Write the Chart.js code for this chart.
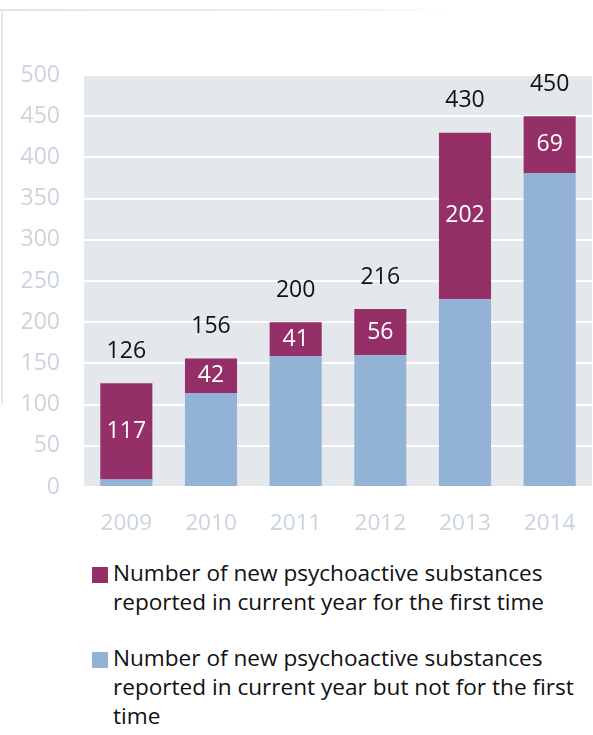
<!DOCTYPE html>
<html>
<head>
<meta charset="utf-8">
<script src="https://cdn.jsdelivr.net/npm/chart.js@4"></script>
<style>
  body { margin: 0; background: #fff; font-family: "Open Sans", sans-serif; }
  #wrap { position: relative; width: 593px; height: 735px; overflow: hidden; }
  #frameTop { position: absolute; left: 0; top: 9px; width: 450px; height: 2px;
    background: linear-gradient(to right, #dfe5ec, #eef1f5 80%, rgba(255,255,255,0)); }
  #frameLeft { position: absolute; left: 1px; top: 10px; width: 2px; height: 395px; background: #e3e9f1; }
  #box { position: absolute; left: 0; top: 0; width: 593px; height: 545px; }
  #legend { position: absolute; left: 92px; top: 558px; width: 500px; }
  .item { display: flex; align-items: flex-start; margin-bottom: 27px; }
  .swatch { width: 16px; height: 16px; margin-top: 9px; margin-right: 5px; flex: none; }
  .txt { font-size: 22.6px; line-height: 29px; color: #111; }
</style>
</head>
<body>
<div id="wrap">
  <div id="frameTop"></div>
  <div id="frameLeft"></div>
  <div id="box"><canvas id="myChart"></canvas></div>
  <div id="legend"></div>
</div>
<script>
const years = ["2009", "2010", "2011", "2012", "2013", "2014"];
const firstTime = [117, 42, 41, 56, 202, 69];
const notFirstTime = [9, 114, 159, 160, 228, 381];
const totals = [126, 156, 200, 216, 430, 450];
const yTicks = [0, 50, 100, 150, 200, 250, 300, 350, 400, 450, 500];

const labelFirst = "Number of new psychoactive substances reported in current year for the first time";
const labelNotFirst = "Number of new psychoactive substances reported in current year but not for the first time";
const purple = "#943067";
const blue = "#92b3d6";
const tickGrey = "#cbd3dd";

// grey plot background
const plotBg = {
    id: "plotBg",
    beforeDraw(chart) {
        const a = chart.chartArea;
        const ctx = chart.ctx;
        ctx.save();
        ctx.fillStyle = "#e4e7eb";
        ctx.fillRect(a.left, a.top, a.right - a.left, a.bottom - a.top);
        ctx.restore();
    }
};

// values inside purple segments and totals over the bars
const barLabels = {
    id: "barLabels",
    afterDatasetsDraw(chart) {
        const ctx = chart.ctx;
        const y = chart.scales.y;
        const top = chart.getDatasetMeta(1).data;
        ctx.save();
        ctx.font = "23px 'Open Sans'";
        ctx.textAlign = "center";
        ctx.textBaseline = "middle";
        top.forEach((bar, i) => {
            const mid = y.getPixelForValue(notFirstTime[i] + firstTime[i] / 2);
            ctx.fillStyle = "#fff";
            ctx.fillText(firstTime[i], bar.x, mid);
            ctx.fillStyle = "#111";
            ctx.fillText(totals[i], bar.x, y.getPixelForValue(totals[i]) - 32);
        });
        ctx.restore();
    }
};

const chart = new Chart("myChart", {
    type: "bar",
    data: {
        labels: years,
        datasets: [{
            label: labelNotFirst,
            data: notFirstTime,
            backgroundColor: blue
        }, {
            label: labelFirst,
            data: firstTime,
            backgroundColor: purple
        }]
    },
    options: {
        responsive: true,
        maintainAspectRatio: false,
        animation: false,
        layout: { padding: { top: 75, right: 1, left: 0, bottom: 0 } },
        datasets: { bar: { categoryPercentage: 1, barPercentage: 0.615 } },
        plugins: { legend: { display: false }, tooltip: { enabled: false } },
        scales: {
            x: {
                stacked: true,
                grid: { display: false },
                border: { display: false },
                ticks: { color: tickGrey, font: { family: "Open Sans", size: 22.6 }, padding: 15 },
                afterFit(s) { s.height = 58; }
            },
            y: {
                stacked: true,
                min: 0,
                max: 500,
                afterBuildTicks(s) { s.ticks = yTicks.map(v => ({ value: v })); },
                grid: { color: "#fff", lineWidth: 2, drawTicks: false },
                border: { display: false },
                ticks: { color: tickGrey, font: { family: "Open Sans", size: 23 }, padding: 24 },
                afterFit(s) { s.width = 84; }
            }
        }
    },
    plugins: [plotBg, barLabels]
});

// legend below the chart, purple entry first
const legendEl = document.getElementById("legend");
const legendRows = [
    { color: purple, lines: ["Number of new psychoactive substances", "reported in current year for the first time"] },
    { color: blue, lines: ["Number of new psychoactive substances", "reported in current year but not for the first", "time"] }
];
legendRows.forEach(r => {
    const item = document.createElement("div");
    item.className = "item";
    item.innerHTML = '<span class="swatch" style="background:' + r.color + '"></span><span class="txt">' + r.lines.join("<br>") + "</span>";
    legendEl.appendChild(item);
});
</script>
</body>
</html>
